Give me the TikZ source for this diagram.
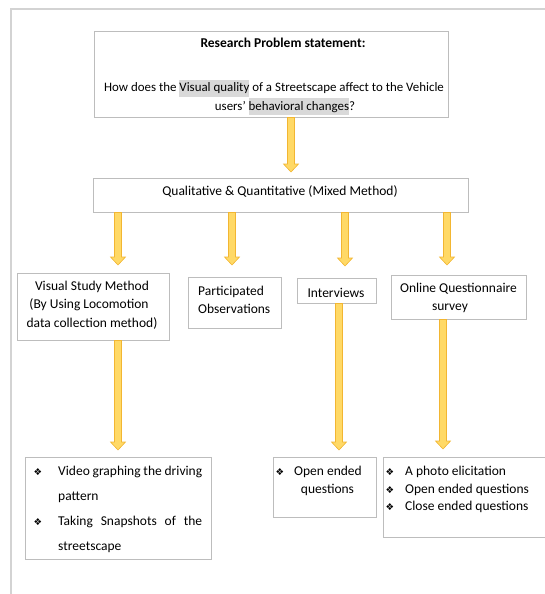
\documentclass[tikz,border=0pt]{standalone}
\usepackage{fontspec}
\setmainfont{Carlito}
\newfontfamily\djfont{DejaVu Sans}
\usetikzlibrary{calc}
\definecolor{fr}{HTML}{D3D3D3}
\definecolor{bx}{HTML}{BDBDBD}
\definecolor{af}{HTML}{FFD966}
\definecolor{ad}{HTML}{F2B632}
\definecolor{hl}{HTML}{D9D9D9}
\tikzset{
  box/.style={draw=bx, line width=0.9pt, fill=white, inner sep=0},
  txt/.style={inner sep=0, anchor=base, font=\fontsize{13.5}{17}\selectfont},
  txtl/.style={txt, anchor=base west},
  txts/.style={txt, font=\fontsize{12.9}{17}\selectfont},
  blk/.style={draw=ad, fill=af, line width=0.6pt},
}
\newcommand\bul{{\djfont\fontsize{9.5}{9.5}\selectfont ❖}}
\newcommand\hlt[1]{{\setlength\fboxsep{0pt}\colorbox{hl}{\strut #1}}}
\newcommand\barrow[2]{%
  \draw[blk] let \p1=(#1), \p2=(#2) in
    (\x1-3.5pt,\y1) -- (\x1-3.5pt,\y2+8pt) -- (\x1-7.5pt,\y2+8pt) -- (\x2,\y2)
    -- (\x1+7.5pt,\y2+8pt) -- (\x1+3.5pt,\y2+8pt) -- (\x1+3.5pt,\y1) -- cycle;}
\begin{document}
\begin{tikzpicture}[x=1pt,y=-1pt]
\useasboundingbox (0,0) rectangle (545,594);
% outer frame
\draw[fr, line width=1.3pt] (546,9) -- (11,9) -- (11,595);
% boxes
\node[box, minimum width=354pt, minimum height=86pt] (top) at (271,74) {};
\node[box, minimum width=375pt, minimum height=34pt] (mix) at (280.5,195) {};
\node[box, minimum width=152pt, minimum height=67pt] (vs) at (93,306.5) {};
\node[box, minimum width=93pt, minimum height=51pt] (po) at (234.5,302.5) {};
\node[box, minimum width=79pt, minimum height=25pt] (iv) at (336.5,290.5) {};
\node[box, minimum width=135pt, minimum height=44pt] (oq) at (458.5,297) {};
\node[box, minimum width=186pt, minimum height=102pt] (lb) at (118,508) {};
\node[box, minimum width=103pt, minimum height=60pt] (mb) at (324.5,487) {};
\node[box, minimum width=172pt, minimum height=80pt] (rb) at (469,497) {};
% arrow x positions and tips
\coordinate (x1) at (291,0);
\coordinate (x2) at (118,0);
\coordinate (x3) at (232,0);
\coordinate (x4) at (345,0);
\coordinate (x5) at (447,0);
\coordinate (x6) at (118,0);
\coordinate (x7) at (339,0);
\coordinate (x8) at (443,0);
\coordinate (t1) at (291,172);
\coordinate (t2) at (118,265);
\coordinate (t3) at (232,265);
\coordinate (t4) at (345,266);
\coordinate (t5) at (447,265);
\coordinate (t6) at (118,450);
\coordinate (t7) at (339,450);
\coordinate (t8) at (443,449);
\barrow{top.south -| x1}{t1}
\barrow{mix.south -| x2}{t2}
\barrow{mix.south -| x3}{t3}
\barrow{mix.south -| x4}{t4}
\barrow{mix.south -| x5}{t5}
\barrow{vs.south -| x6}{t6}
\barrow{iv.south -| x7}{t7}
\barrow{oq.south -| x8}{t8}
% texts
\node[txt, font=\fontsize{13.5}{17}\selectfont\bfseries] (r1) at (283,48) {Research Problem statement:};
\node[txts] (r2) at (274,92) {How does the \hlt{Visual quality} of a Streetscape affect to the Vehicle};
\node[txts] (r3) at (285,110) {users’ \hlt{behavioral changes}?};
\node[txt] (m1) at (280,195) {Qualitative \& Quantitative (Mixed Method)};
\node[txt] (v1) at (92,290) {Visual Study Method};
\node[txt] (v2) at (89,308) {(By Using Locomotion};
\node[txt] (v3) at (92,327) {data collection method)};
\node[txtl] (p1) at (198,295) {Participated};
\node[txtl] (p2) at (198,313) {Observations};
\node[txt] (i1) at (336,297) {Interviews};
\node[txt] (o1) at (458.5,292) {Online Questionnaire};
\node[txt] (o2) at (450,310) {survey};
% left bottom
\node[txt] (lb0) at (38,475) {\bul};
\node[txtl] (lb1) at (58,475) {\makebox[144pt][s]{Video graphing the driving}};
\node[txtl] (lb2) at (58,500) {pattern};
\node[txt] (lb3) at (38,525) {\bul};
\node[txtl] (lb4) at (58,525) {\makebox[144pt][s]{Taking Snapshots of the}};
\node[txtl] (lb5) at (58,550) {streetscape};
% middle bottom
\node[txt] (mb0) at (280,475) {\bul};
\node[txtl] (mb1) at (294,475) {Open ended};
\node[txt] (mb2) at (327.5,493) {questions};
% right bottom
\node[txt] (rb0) at (390,475) {\bul};
\node[txtl] (rb1) at (405,475) {A photo elicitation};
\node[txt] (rb2) at (390,493) {\bul};
\node[txtl] (rb3) at (405,493) {Open ended questions};
\node[txt] (rb4) at (390,510) {\bul};
\node[txtl] (rb5) at (405,510) {Close ended questions};
\end{tikzpicture}
\end{document}
